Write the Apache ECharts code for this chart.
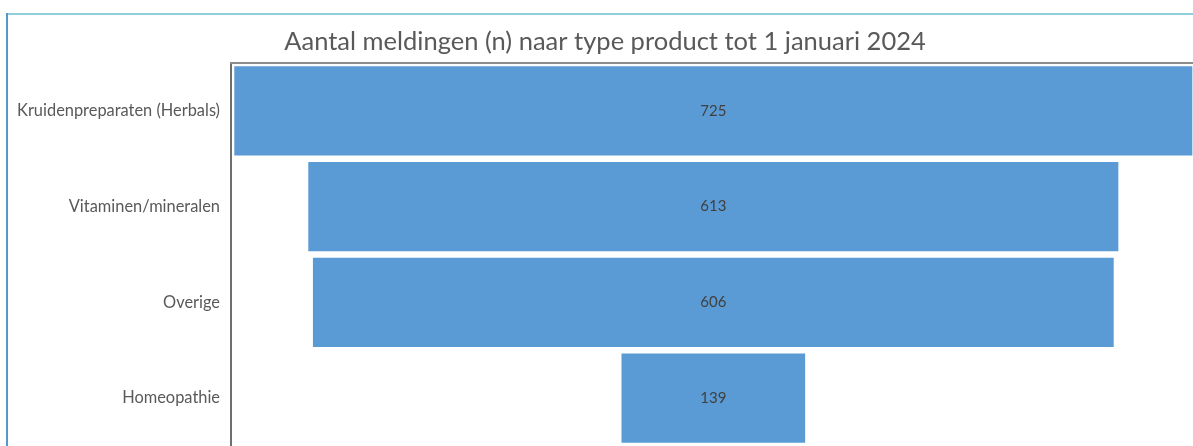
<!DOCTYPE html>
<html>
<head>
<meta charset="utf-8">
<script src="https://cdn.jsdelivr.net/npm/echarts@6/dist/echarts.min.js"></script>
<style>
  html, body { margin: 0; padding: 0; background: #fff; overflow: hidden; }
  #chart { width: 1193px; height: 446px; }
</style>
</head>
<body>
<div id="chart"></div>
<script>
// data
const titleText = 'Aantal meldingen (n) naar type product tot 1 januari 2024'
const categories = ['Kruidenpreparaten (Herbals)', 'Vitaminen/mineralen', 'Overige', 'Homeopathie']
const counts = [725, 613, 606, 139]

const chart = echarts.init(document.getElementById('chart'))

// funnel-achtige balken: gecentreerd rond 0 op de x-as
const renderBar = (params, api) => {
  const v = api.value(0)
  const idx = api.value(1)
  const left = api.coord([-v / 2, idx])
  const right = api.coord([v / 2, idx])
  const h = api.size([0, 1])[1] * 0.93
  return {
    type: 'rect',
    shape: { x: left[0], y: left[1] - h / 2, width: right[0] - left[0], height: h },
    style: { fill: '#5b9bd5' },
    textContent: {
      style: {
        text: String(v),
        fill: '#404040',
        font: '15px Lato, "Open Sans", sans-serif'
      }
    },
    textConfig: { position: 'inside' }
  }
}

const option = {
  backgroundColor: '#ffffff',
  animation: false,
  title: {
    text: titleText,
    left: 600,
    top: 24,
    textAlign: 'center',
    textStyle: {
      fontFamily: 'Lato, "Open Sans", sans-serif',
      fontSize: 25.5,
      fontWeight: 'normal',
      color: '#595959'
    }
  },
  graphic: [
    {
      type: 'line',
      shape: { x1: 6, y1: 14, x2: 1193, y2: 14 },
      style: { stroke: '#92cddc', lineWidth: 2 }
    },
    {
      type: 'line',
      shape: { x1: 7, y1: 13, x2: 7, y2: 446 },
      style: { stroke: '#4f9ccc', lineWidth: 2 }
    }
  ],
  grid: {
    left: 231,
    right: 0,
    top: 63,
    bottom: 0
  },
  xAxis: {
    type: 'value',
    position: 'top',
    min: -365,
    max: 363,
    axisLine: { show: true, onZero: false, lineStyle: { color: '#8c8c8c', width: 2 } },
    axisTick: { show: false },
    axisLabel: { show: false },
    splitLine: { show: false }
  },
  yAxis: {
    type: 'category',
    data: categories,
    inverse: true,
    axisLine: { show: true, onZero: false, lineStyle: { color: '#6f6f6f', width: 2 } },
    axisTick: { show: false },
    axisLabel: {
      margin: 11,
      color: '#595959',
      fontSize: 16.4,
      fontFamily: 'Lato, "Open Sans", sans-serif'
    }
  },
  series: [
    {
      type: 'custom',
      renderItem: renderBar,
      encode: { x: 0, y: 1 },
      data: counts.map((v, i) => [v, i])
    }
  ]
}

chart.setOption(option)
</script>
</body>
</html>
